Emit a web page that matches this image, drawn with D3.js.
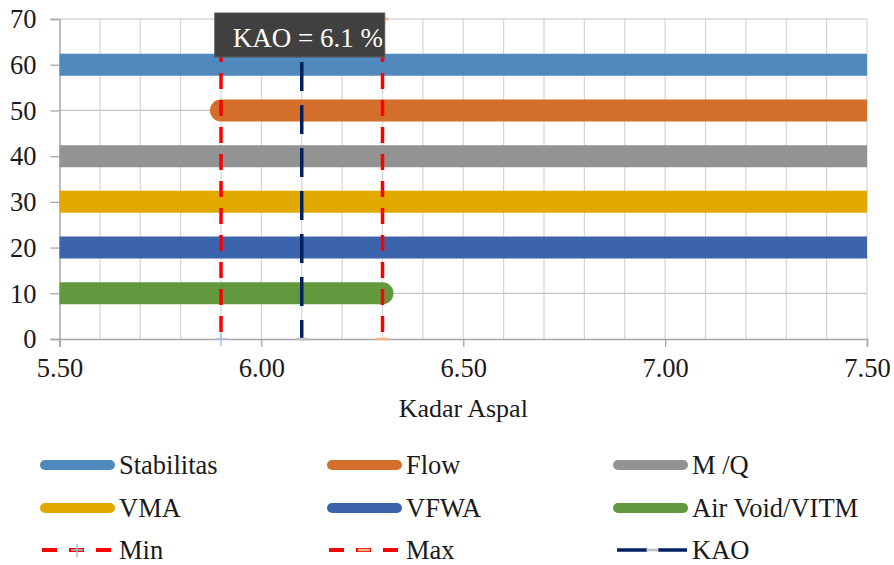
<!DOCTYPE html>
<html>
<head>
<meta charset="utf-8">
<script src="https://cdn.jsdelivr.net/npm/d3@7"></script>
<style>
  html, body { margin: 0; padding: 0; background: #ffffff; }
  svg { display: block; }
  svg text { font-family: "Liberation Serif", "DejaVu Serif", "Times New Roman", serif; }
</style>
</head>
<body>
<svg id="chart" width="894" height="565"></svg>
<script>
// Specification bands for each Marshall parameter (asphalt content ranges)
const seriesNames  = ["Stabilitas", "Flow", "M /Q", "VMA", "VFWA", "Air Void/VITM"];
const seriesLevel  = [60, 50, 40, 30, 20, 10];
const seriesFrom   = [5.5, 5.9, 5.5, 5.5, 5.5, 5.5];
const seriesTo     = [7.5, 7.5, 7.5, 7.5, 7.5, 6.3];
const seriesColors = ["#4f89bd", "#d36f2b", "#939393", "#e2aa00", "#3c64ac", "#62993e"];

// Vertical reference lines
const refNames  = ["Min", "Max", "KAO"];
const refValues = [5.9, 6.3, 6.1];

const xTicks = [5.5, 6.0, 6.5, 7.0, 7.5];
const xGrid  = d3.range(56, 76).map(d => d / 10);
const yTicks = [0, 10, 20, 30, 40, 50, 60, 70];
const xTitle = "Kadar Aspal";

const serif = '"Liberation Serif", "DejaVu Serif", "Times New Roman", serif';
const svg = d3.select("#chart");
const plot = { left: 59.5, right: 867, top: 19, bottom: 339 };

const x = d3.scaleLinear().domain([5.5, 7.5]).range([plot.left, plot.right]);
const y = d3.scaleLinear().domain([0, 70]).range([plot.bottom, plot.top]);

const textColor = "#1a1a1a";
const fontSize = 26.5;

// Vertical gridlines (every 0.1)
svg.append("g").selectAll("line").data(xGrid).join("line")
  .attr("x1", d => x(d)).attr("x2", d => x(d))
  .attr("y1", y(0)).attr("y2", y(70))
  .attr("stroke", "#d4d4d4").attr("stroke-width", 1.2);

// Horizontal gridlines
svg.append("g").selectAll("line").data(yTicks.filter(d => d > 0)).join("line")
  .attr("x1", x(5.5)).attr("x2", x(7.5))
  .attr("y1", d => y(d)).attr("y2", d => y(d))
  .attr("stroke", "#c4c4c4").attr("stroke-width", 1.2);

// Axes
const xAxis = d3.axisBottom(x).tickValues(xTicks).tickSize(8).tickFormat(d3.format(".2f"));
const gx = svg.append("g").attr("transform", `translate(0,${y(0)})`).call(xAxis)
  .attr("font-family", serif).attr("font-size", fontSize);
gx.select(".domain").attr("stroke", "#a6a6a6").attr("stroke-width", 1.5);
gx.selectAll(".tick line").attr("stroke", "#a6a6a6").attr("stroke-width", 1.3);
gx.selectAll(".tick text").attr("fill", textColor).attr("dy", "1.02em");

const yAxis = d3.axisLeft(y).tickValues(yTicks).tickSize(9).tickFormat(d3.format("d"));
const gy = svg.append("g").attr("transform", `translate(${x(5.5)},0)`).call(yAxis)
  .attr("font-family", serif).attr("font-size", fontSize);
gy.select(".domain").attr("stroke", "#a6a6a6").attr("stroke-width", 1.5);
gy.selectAll(".tick line").attr("stroke", "#a6a6a6").attr("stroke-width", 1.3);
gy.selectAll(".tick text").attr("fill", textColor).attr("x", -23).attr("dy", "0.33em");

svg.append("text")
  .attr("x", (plot.left + plot.right) / 2).attr("y", 417)
  .attr("text-anchor", "middle").attr("font-size", 26).attr("fill", textColor)
  .attr("font-family", serif)
  .text(xTitle);

// Specification bands, clipped to the plot area
svg.append("clipPath").attr("id", "plotClip").append("rect")
  .attr("x", plot.left).attr("y", plot.top)
  .attr("width", plot.right - plot.left).attr("height", plot.bottom - plot.top);

const bands = seriesNames.map((n, i) => ({
  name: n, level: seriesLevel[i], from: seriesFrom[i], to: seriesTo[i], color: seriesColors[i]
}));

svg.append("g").attr("clip-path", "url(#plotClip)")
  .selectAll("line").data(bands).join("line")
  .attr("x1", d => x(d.from)).attr("x2", d => x(d.to))
  .attr("y1", d => y(d.level)).attr("y2", d => y(d.level))
  .attr("stroke", d => d.color).attr("stroke-width", 22)
  .attr("stroke-linecap", "round");

// Reference lines: Min / Max (red dashed) and KAO (navy dashed)
const refStyle = {
  Min: { color: "#ff0000", dash: "16,11", marker: "plus", mcolor: "#9dc3e6" },
  Max: { color: "#ff0000", dash: "16,11", marker: "dash", mcolor: "#f4b183" },
  KAO: { color: "#002060", dash: "29,14", marker: "dash", mcolor: "#bfbfbf" }
};
const refs = refNames.map((n, i) => ({ name: n, value: refValues[i], ...refStyle[n] }));

const gRef = svg.append("g");
gRef.selectAll("line.ref").data(refs).join("line").attr("class", "ref")
  .attr("x1", d => x(d.value)).attr("x2", d => x(d.value))
  .attr("y1", y(70)).attr("y2", y(0))
  .attr("stroke", d => d.color).attr("stroke-width", 3.5)
  .attr("stroke-dasharray", d => d.dash);

// End markers of the reference lines
function drawMarker(g, type, cx, cy, color) {
  if (type === "plus") {
    g.append("line").attr("x1", cx - 6).attr("x2", cx + 6).attr("y1", cy).attr("y2", cy)
      .attr("stroke", color).attr("stroke-width", 1.5);
    g.append("line").attr("x1", cx).attr("x2", cx).attr("y1", cy - 6).attr("y2", cy + 7)
      .attr("stroke", color).attr("stroke-width", 1.5);
  } else {
    g.append("line").attr("x1", cx - 6).attr("x2", cx + 6).attr("y1", cy).attr("y2", cy)
      .attr("stroke", color).attr("stroke-width", 2.5);
  }
}
refs.forEach(r => {
  drawMarker(gRef, r.marker, x(r.value), y(0), r.mcolor);
  if (r.name !== "KAO") drawMarker(gRef, r.marker, x(r.value), y(70), r.mcolor);
});

// KAO callout
const kao = refValues[refNames.indexOf("KAO")];
const callout = svg.append("g");
callout.append("rect")
  .attr("x", x(kao) - 87).attr("y", 13).attr("width", 170).attr("height", 44)
  .attr("fill", "#404040").attr("stroke", "#595959").attr("stroke-width", 1);
callout.append("text")
  .attr("x", x(kao) - 69).attr("y", 47)
  .attr("font-size", 27).attr("fill", "#ffffff").attr("font-family", serif)
  .text(`KAO = ${kao} %`);

// Legend
const legendCols = [40, 327, 613];
const legendRows = [465, 508, 550];
const legendItems = [
  ...bands.map(b => ({ name: b.name, kind: "band", color: b.color })),
  ...refs.map(r => ({ name: r.name, kind: r.name, ...r }))
];
const gLeg = svg.append("g");
legendItems.forEach((it, i) => {
  const lx = legendCols[i % 3], ly = legendRows[Math.floor(i / 3)];
  const g = gLeg.append("g");
  if (it.kind === "band") {
    g.append("line").attr("x1", lx + 5).attr("x2", lx + 70).attr("y1", ly).attr("y2", ly)
      .attr("stroke", it.color).attr("stroke-width", 10).attr("stroke-linecap", "round");
  } else if (it.kind === "KAO") {
    g.append("line").attr("x1", lx + 4).attr("x2", lx + 74).attr("y1", ly).attr("y2", ly)
      .attr("stroke", it.color).attr("stroke-width", 3.5).attr("stroke-dasharray", "30,11");
    drawMarker(g, it.marker, lx + 39.5, ly, it.mcolor);
  } else {
    g.append("line").attr("x1", lx + 2).attr("x2", lx + 71).attr("y1", ly).attr("y2", ly)
      .attr("stroke", it.color).attr("stroke-width", 4).attr("stroke-dasharray", "15,12");
    drawMarker(g, it.marker, lx + 37, ly, it.mcolor);
  }
  g.append("text").attr("x", lx + 79).attr("y", ly + 8.5)
    .attr("font-size", fontSize).attr("fill", textColor).attr("font-family", serif)
    .text(it.name);
});
</script>
</body>
</html>
